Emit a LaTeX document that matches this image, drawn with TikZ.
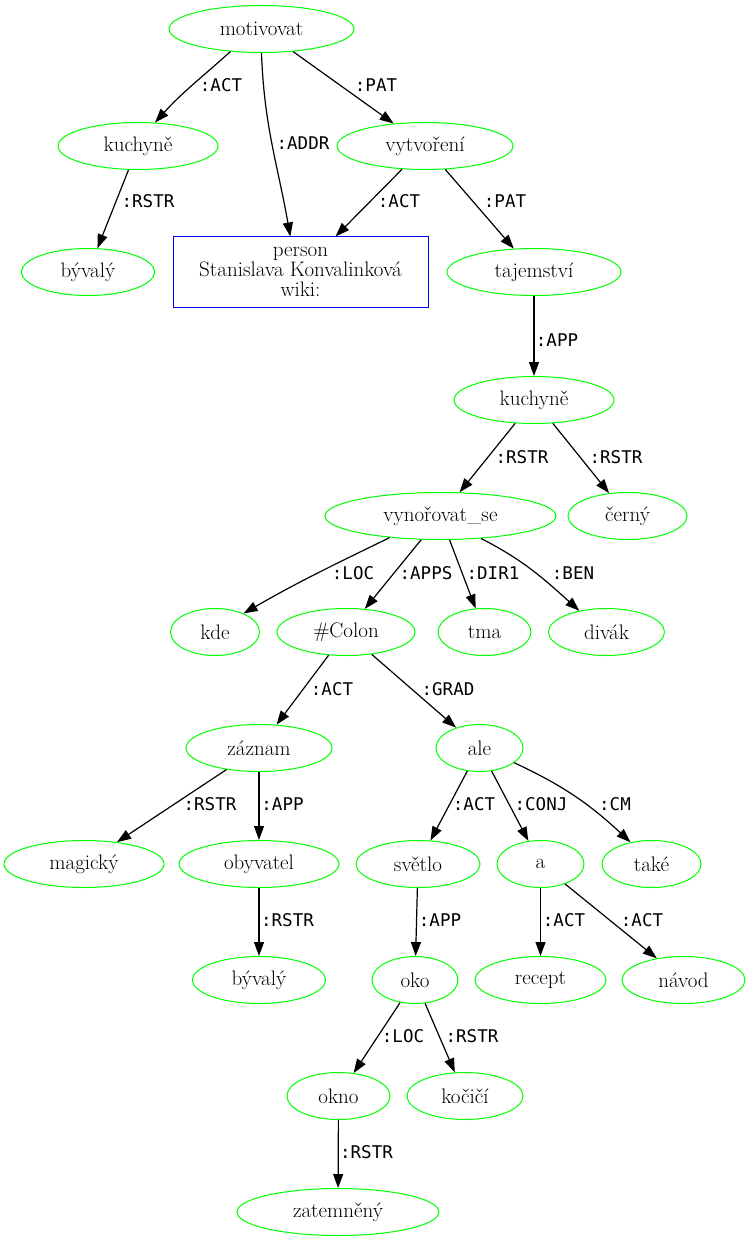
\documentclass[tikz,border=0pt]{standalone}
\usepackage{fontspec}
\setmonofont{DejaVu Sans Mono}
\usetikzlibrary{shapes.geometric,arrows.meta}

\definecolor{gvgreen}{RGB}{0,255,0}
\definecolor{gvblue}{RGB}{0,0,255}
\newcommand\gvtext{\fontsize{21}{20}\selectfont}
\newcommand\gvlabel{\ttfamily\fontsize{17.5}{17.5}\selectfont}

\tikzset{
  word/.style={ellipse, draw=gvgreen, line width=1pt, inner sep=0pt,
               minimum height=47pt, font=\gvtext},
  entity/.style={rectangle, draw=gvblue, line width=1pt, inner sep=0pt,
                 minimum width=255pt, minimum height=70pt, align=center, font=\gvtext},
  rel/.style={font=\gvlabel, inner sep=0pt},
  link/.style={-{Triangle[length=14pt,width=10pt]}, line width=1.2pt},
}

\begin{document}
\begin{tikzpicture}[x=1pt,y=1pt]
\useasboundingbox (0,0) rectangle (751,-1241);

% nodes, rank by rank
\node[word, minimum width=185pt] (motivovat) at (261.5,-29) {motivovat};

\node[word, minimum width=160pt] (kuchyneA) at (138,-146) {kuchyně};
\node[word, minimum width=176pt] (vytvoreni) at (425,-146) {vytvoření};

\node[word, minimum width=133pt] (byvalyA) at (88,-272) {bývalý};
\node[entity] (person) at (300.5,-272) {person\\Stanislava Konvalinková\\wiki:};
\node[word, minimum width=174pt] (tajemstvi) at (534,-272) {tajemství};

\node[word, minimum width=160pt] (kuchyneB) at (534,-400) {kuchyně};

\node[word, minimum width=231pt] (vynorovat) at (440.5,-516) {vynořovat\_se};
\node[word, minimum width=119pt] (cerny) at (627.5,-516) {černý};

\node[word, minimum width=89pt]  (kde) at (215,-632) {kde};
\node[word, minimum width=138pt] (colon) at (346,-632) {\#Colon};
\node[word, minimum width=93pt]  (tma) at (484.5,-632) {tma};
\node[word, minimum width=116pt] (divak) at (606.5,-632) {divák};

\node[word, minimum width=146pt] (zaznam) at (259,-748) {záznam};
\node[word, minimum width=87pt]  (ale) at (479.5,-748) {ale};

\node[word, minimum width=160pt] (magicky) at (84,-864) {magický};
\node[word, minimum width=160pt] (obyvatel) at (259,-864) {obyvatel};
\node[word, minimum width=124pt] (svetlo) at (418,-864) {světlo};
\node[word, minimum width=87pt]  (a) at (540.5,-864) {a};
\node[word, minimum width=99pt]  (take) at (651.5,-864) {také};

\node[word, minimum width=133pt] (byvalyB) at (259,-980) {bývalý};
\node[word, minimum width=86pt]  (oko) at (415,-980) {oko};
\node[word, minimum width=131pt] (recept) at (540.5,-980) {recept};
\node[word, minimum width=123pt] (navod) at (683.5,-980) {návod};

\node[word, minimum width=103pt] (okno) at (338.5,-1096) {okno};
\node[word, minimum width=116pt] (kocici) at (465,-1096) {kočičí};

\node[word, minimum width=202pt] (zatemneny) at (338,-1212) {zatemněný};

% connectors
\draw[link] (motivovat.-144) to[out=-138,in=48] (kuchyneA.54);
\draw[link] (motivovat.-90) to[out=-88,in=100] (person.106);
\draw[link] (motivovat) -- (vytvoreni);
\draw[link] (kuchyneA) -- (byvalyA);
\draw[link] (vytvoreni) -- (person);
\draw[link] (vytvoreni) -- (tajemstvi);
\draw[link] (tajemstvi) -- (kuchyneB);
\draw[link] (kuchyneB) -- (vynorovat);
\draw[link] (kuchyneB) -- (cerny);
\draw[link] (vynorovat.-157) to[out=-154,in=30] (kde.33);
\draw[link] (vynorovat) -- (colon);
\draw[link] (vynorovat) -- (tma);
\draw[link] (vynorovat.-29) to[out=-27,in=138] (divak.142);
\draw[link] (colon) -- (zaznam);
\draw[link] (colon) -- (ale);
\draw[link] (zaznam) -- (magicky);
\draw[link] (zaznam) -- (obyvatel);
\draw[link] (ale) -- (svetlo);
\draw[link] (ale) -- (a);
\draw[link] (ale.-23) to[out=-25,in=137] (take.134);
\draw[link] (obyvatel) -- (byvalyB);
\draw[link] (svetlo) -- (oko);
\draw[link] (a) -- (recept);
\draw[link] (a) -- (navod);
\draw[link] (oko) -- (okno);
\draw[link] (oko) -- (kocici);
\draw[link] (okno) -- (zatemneny);

% relation labels
\node[rel] (l1)  at (221,-85)   {:ACT};
\node[rel] (l2)  at (303,-143)  {:ADDR};
\node[rel] (l3)  at (376,-85)   {:PAT};
\node[rel] (l4)  at (148,-201)  {:RSTR};
\node[rel] (l5)  at (399,-201)  {:ACT};
\node[rel] (l6)  at (505,-201)  {:PAT};
\node[rel] (l7)  at (557,-340)  {:APP};
\node[rel] (l8)  at (522,-457)  {:RSTR};
\node[rel] (l9)  at (616,-457)  {:RSTR};
\node[rel] (l10) at (353,-573)  {:LOC};
\node[rel] (l11) at (426,-573)  {:APPS};
\node[rel] (l12) at (493,-573)  {:DIR1};
\node[rel] (l13) at (573,-573)  {:BEN};
\node[rel] (l14) at (332,-689)  {:ACT};
\node[rel] (l15) at (448,-689)  {:GRAD};
\node[rel] (l16) at (210,-804)  {:RSTR};
\node[rel] (l17) at (282.5,-804) {:APP};
\node[rel] (l18) at (474,-804)  {:ACT};
\node[rel] (l19) at (541,-804)  {:CONJ};
\node[rel] (l20) at (615,-804)  {:CM};
\node[rel] (l21) at (287.5,-920) {:RSTR};
\node[rel] (l22) at (440,-920)  {:APP};
\node[rel] (l23) at (564,-920)  {:ACT};
\node[rel] (l24) at (642,-920)  {:ACT};
\node[rel] (l25) at (403,-1036) {:LOC};
\node[rel] (l26) at (472,-1036) {:RSTR};
\node[rel] (l27) at (366.5,-1152) {:RSTR};
\end{tikzpicture}
\end{document}
